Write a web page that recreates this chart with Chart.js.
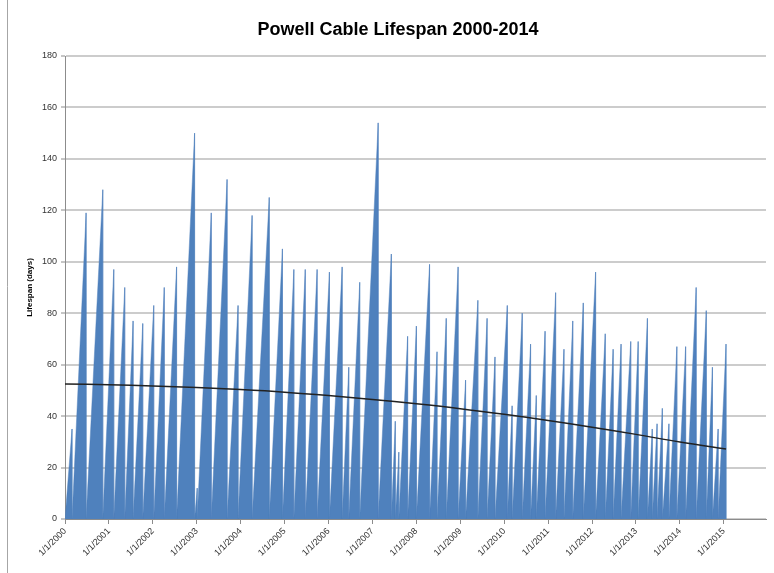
<!DOCTYPE html>
<html>
<head>
<meta charset="utf-8">
<title>Powell Cable Lifespan 2000-2014</title>
<script src="https://cdn.jsdelivr.net/npm/chart.js@4.4.1/dist/chart.umd.min.js"></script>
<style>
	html, body { margin: 0; padding: 0; background: #fff; }
	#wrap { width: 774px; height: 573px; }
</style>
</head>
<body>
<div id="wrap"><canvas id="lifespan" width="774" height="573"></canvas></div>
<script>
// failure dates (decimal year) and lifespan reached at each failure
const peakYears = [
	2000.16, 2000.48, 2000.86, 2001.11, 2001.36, 2001.55, 2001.77, 2002.02, 2002.26, 2002.54,
	2002.95, 2003.01, 2003.33, 2003.69, 2003.94, 2004.26, 2004.65, 2004.95, 2005.21, 2005.47,
	2005.74, 2006.02, 2006.31, 2006.46, 2006.71, 2007.13, 2007.43, 2007.52, 2007.60, 2007.80,
	2008.00, 2008.30, 2008.47, 2008.68, 2008.95, 2009.12, 2009.40, 2009.61, 2009.79, 2010.07,
	2010.18, 2010.41, 2010.60, 2010.73, 2010.93, 2011.17, 2011.36, 2011.56, 2011.80, 2012.08,
	2012.30, 2012.48, 2012.66, 2012.88, 2013.05, 2013.26, 2013.37, 2013.48, 2013.60, 2013.75,
	2013.93, 2014.13, 2014.37, 2014.60, 2014.74, 2014.87, 2015.05
];
const peakDays = [
	35, 119, 128, 97, 90, 77, 76, 83, 90, 98,
	150, 12, 119, 132, 83, 118, 125, 105, 97, 97,
	97, 96, 98, 59, 92, 154, 103, 38, 26, 71,
	75, 99, 65, 78, 98, 54, 85, 78, 63, 83,
	44, 80, 68, 48, 73, 88, 66, 77, 84, 96,
	72, 66, 68, 69, 69, 78, 35, 37, 43, 37,
	67, 67, 90, 81, 59, 35, 68
];
// polynomial trend line, read at each year
const trendYears = [2000, 2001, 2002, 2003, 2004, 2005, 2006, 2007, 2008, 2009, 2010, 2011, 2012, 2013, 2014, 2015.05];
const trendDays = [52.5, 52.2, 51.7, 51.1, 50.3, 49.3, 48.0, 46.5, 44.8, 42.9, 40.7, 38.3, 35.7, 32.9, 29.9, 27.2];
const tickYears = [2000, 2001, 2002, 2003, 2004, 2005, 2006, 2007, 2008, 2009, 2010, 2011, 2012, 2013, 2014, 2015];

Chart.defaults.font.family = "'Liberation Sans', Arial, sans-serif";

const lifespanPoints = [{x: 2000, y: 0}];
peakYears.forEach(function(year, i) {
	lifespanPoints.push({x: year, y: peakDays[i]});
	lifespanPoints.push({x: year, y: 0});
});
const trendPoints = trendYears.map((year, i) => ({x: year, y: trendDays[i]}));

const chartDecor = {
	id: 'chartDecor',
	afterDraw(chart) {
		const ctx = chart.ctx;
		ctx.save();
		ctx.strokeStyle = '#a6a6a6';
		ctx.lineWidth = 1;
		ctx.beginPath();
		ctx.moveTo(7.5, 0);
		ctx.lineTo(7.5, 573);
		ctx.stroke();
		ctx.fillStyle = '#000';
		ctx.font = "bold 18px 'Liberation Sans', Arial, sans-serif";
		ctx.textAlign = 'center';
		ctx.textBaseline = 'middle';
		ctx.fillText('Powell Cable Lifespan 2000-2014', 398, 30);
		ctx.restore();
	}
};

const ctx = document.getElementById('lifespan').getContext('2d');
const chart = new Chart(ctx, {
	type: 'line',
	data: {
		datasets: [
			{
				label: 'Trend',
				data: trendPoints,
				borderColor: '#222222',
				borderWidth: 1.5,
				pointRadius: 0,
				fill: false,
				tension: 0.4
			},
			{
				label: 'Lifespan (days)',
				data: lifespanPoints,
				borderColor: 'rgba(79, 129, 189, 0.45)',
				backgroundColor: '#4f81bd',
				borderWidth: 1,
				pointRadius: 0,
				fill: 'origin',
				lineTension: 0
			}
		]
	},
	options: {
		responsive: false,
		animation: false,
		devicePixelRatio: 1,
		layout: {padding: {top: 56, left: 25, right: 8, bottom: 0}},
		plugins: {
			legend: {display: false},
			title: {display: false},
			tooltip: {enabled: false}
		},
		scales: {
			x: {
				type: 'linear',
				min: 2000,
				max: 2015.96,
				afterBuildTicks: function(scale) {
					scale.ticks = tickYears.map(y => ({value: y}));
				},
				afterFit: function(scale) { scale.height = 54; },
				ticks: {
					autoSkip: false,
					maxRotation: 45,
					minRotation: 45,
					padding: 2,
					color: '#333',
					font: {size: 9},
					callback: v => '1/1/' + v
				},
				grid: {drawOnChartArea: false, tickLength: 5, color: '#8c8c8c'},
				border: {color: '#8c8c8c'}
			},
			y: {
				min: 0,
				max: 180,
				afterFit: function(scale) { scale.width = 40; },
				ticks: {stepSize: 20, padding: 4, color: '#333', font: {size: 9}},
				grid: {color: '#cccccc', lineWidth: 2, tickLength: 4, tickColor: '#8c8c8c', tickWidth: 1},
				border: {color: '#8c8c8c'},
				title: {
					display: true,
					text: 'Lifespan (days)',
					color: '#000',
					font: {size: 8, weight: 'bold'},
					padding: {top: 0, bottom: 2}
				}
			}
		}
	},
	plugins: [chartDecor]
});
</script>
</body>
</html>
